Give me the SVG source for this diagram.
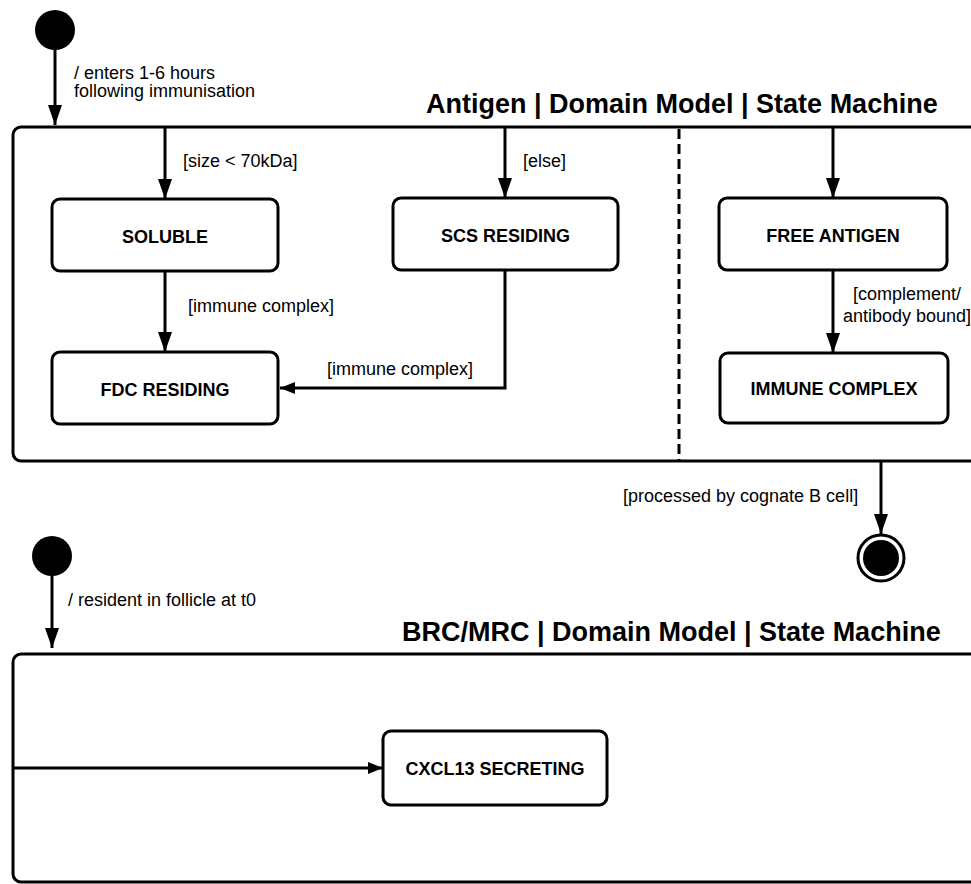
<svg xmlns="http://www.w3.org/2000/svg" width="971" height="884" viewBox="0 0 971 884">
  <style>
    .frame { fill: #ffffff; stroke: #000000; stroke-width: 3; }
    .state { fill: #ffffff; stroke: #000000; stroke-width: 3; }
    .edge { fill: none; stroke: #000000; stroke-width: 3; }
    .region { fill: none; stroke: #000000; stroke-width: 3; stroke-dasharray: 10 5; }
    .title { font-family: "Liberation Sans", Arial, Helvetica, sans-serif; font-size: 27px; font-weight: bold; fill: #000000; }
    .name { font-family: "Liberation Sans", Arial, Helvetica, sans-serif; font-size: 18px; font-weight: bold; fill: #000000; text-anchor: middle; }
    .label { font-family: "Liberation Sans", Arial, Helvetica, sans-serif; font-size: 18px; fill: #000000; }
  </style>
  <defs>
    <marker id="arrow" markerUnits="userSpaceOnUse" markerWidth="20" markerHeight="14" refX="20" refY="7" orient="auto">
      <path d="M0,0 L20,7 L0,14 z" fill="#000000"/>
    </marker>
    <marker id="arrow-sm" markerUnits="userSpaceOnUse" markerWidth="15" markerHeight="12" refX="15" refY="6" orient="auto">
      <path d="M0,0 L15,6 L0,12 z" fill="#000000"/>
    </marker>
  </defs>

  <!-- Antigen state machine -->
  <g id="antigen-machine">
    <rect class="frame" x="13" y="127" width="1000" height="334" rx="8" ry="8"/>
    <line class="region" x1="679" y1="129" x2="679" y2="460"/>
    <text class="title" x="426" y="113">Antigen | Domain Model | State Machine</text>
  </g>

  <g id="antigen-initial">
    <circle cx="55" cy="30" r="20" fill="#000000"/>
  </g>

  <g id="soluble">
    <rect class="state" x="52" y="199" width="226" height="72" rx="8" ry="8"/>
    <text class="name" x="165" y="243">SOLUBLE</text>
  </g>

  <g id="scs-residing">
    <rect class="state" x="393" y="198" width="225" height="72" rx="8" ry="8"/>
    <text class="name" x="505.5" y="242">SCS RESIDING</text>
  </g>

  <g id="fdc-residing">
    <rect class="state" x="52" y="352" width="226" height="72" rx="8" ry="8"/>
    <text class="name" x="165" y="396">FDC RESIDING</text>
  </g>

  <g id="free-antigen">
    <rect class="state" x="719" y="198" width="228" height="72" rx="8" ry="8"/>
    <text class="name" x="833" y="242">FREE ANTIGEN</text>
  </g>

  <g id="immune-complex">
    <rect class="state" x="720" y="353" width="228" height="70" rx="8" ry="8"/>
    <text class="name" x="834" y="395">IMMUNE COMPLEX</text>
  </g>

  <g id="antigen-final">
    <circle cx="881" cy="558" r="23" fill="#ffffff" stroke="#000000" stroke-width="3"/>
    <circle cx="881" cy="558" r="18" fill="#000000"/>
  </g>

  <!-- BRC/MRC state machine -->
  <g id="brc-mrc-machine">
    <rect class="frame" x="13" y="654" width="1000" height="228" rx="8" ry="8"/>
    <text class="title" x="402" y="641">BRC/MRC | Domain Model | State Machine</text>
  </g>

  <g id="brc-initial">
    <circle cx="52" cy="556" r="20" fill="#000000"/>
  </g>

  <g id="cxcl13-secreting">
    <rect class="state" x="383" y="731" width="224" height="74" rx="8" ry="8"/>
    <text class="name" x="495" y="775">CXCL13 SECRETING</text>
  </g>

  <!-- Transitions -->
  <g id="connectors">
    <line class="edge" x1="55" y1="50" x2="55" y2="125" marker-end="url(#arrow)"/>
    <line class="edge" x1="165" y1="128" x2="165" y2="199" marker-end="url(#arrow)"/>
    <line class="edge" x1="505" y1="128" x2="505" y2="198" marker-end="url(#arrow)"/>
    <line class="edge" x1="833" y1="128" x2="833" y2="198" marker-end="url(#arrow)"/>
    <line class="edge" x1="165" y1="271" x2="165" y2="352" marker-end="url(#arrow)"/>
    <polyline class="edge" points="505,270 505,388 280,388" marker-end="url(#arrow-sm)"/>
    <line class="edge" x1="833" y1="270" x2="833" y2="353" marker-end="url(#arrow)"/>
    <line class="edge" x1="881" y1="461" x2="881" y2="534" marker-end="url(#arrow)"/>
    <line class="edge" x1="52" y1="576" x2="52" y2="648" marker-end="url(#arrow)"/>
    <line class="edge" x1="14" y1="768" x2="383" y2="768" marker-end="url(#arrow-sm)"/>

    <text class="label" x="74" y="79">/ enters 1-6 hours</text>
    <text class="label" x="74" y="97">following immunisation</text>
    <text class="label" x="183" y="167">[size &lt; 70kDa]</text>
    <text class="label" x="523" y="167">[else]</text>
    <text class="label" x="188" y="312">[immune complex]</text>
    <text class="label" x="327" y="375">[immune complex]</text>
    <text class="label" x="907" y="300" text-anchor="middle">[complement/</text>
    <text class="label" x="907" y="322" text-anchor="middle">antibody bound]</text>
    <text class="label" x="623" y="502">[processed by cognate B cell]</text>
    <text class="label" x="68" y="606">/ resident in follicle at t0</text>
  </g>
</svg>
